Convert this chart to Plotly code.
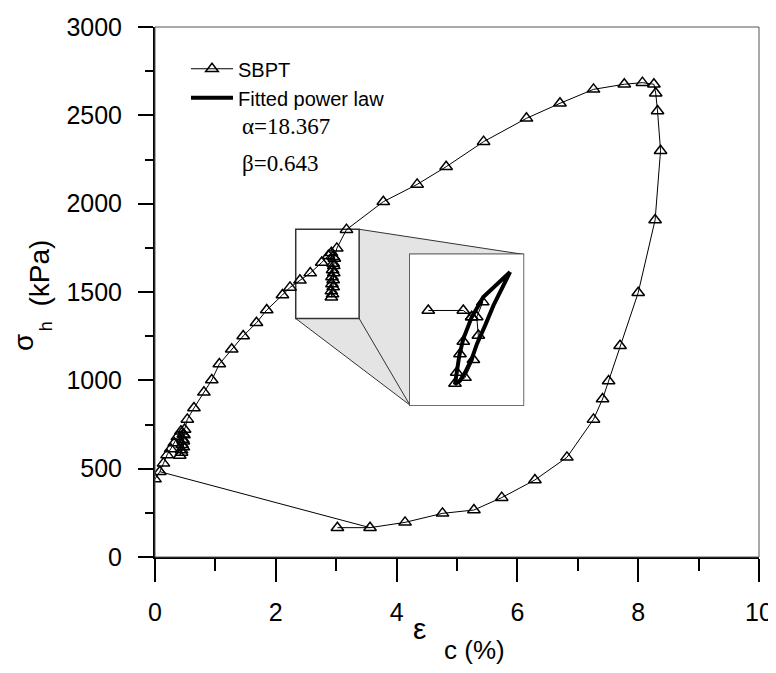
import plotly.graph_objects as go

# ---- main SBPT record (strain %, stress kPa) ----
eps = [0.00, 0.08, 0.14, 0.20, 0.26, 0.32, 0.37, 0.43,
       0.47, 0.46, 0.45, 0.44, 0.41,
       0.44, 0.47, 0.47, 0.48, 0.49,
       0.535, 0.645, 0.81, 0.94, 1.065, 1.27, 1.46, 1.68, 1.85, 2.11, 2.235,
       2.40, 2.57, 2.76, 2.87, 2.92,
       2.95, 2.95, 2.94, 2.93, 2.93, 2.92, 2.92,
       2.94, 2.95, 2.95, 2.96, 2.96, 2.97,
       3.01, 3.17, 3.78, 4.34, 4.82, 5.44, 6.15, 6.705, 7.26, 7.77, 8.07,
       8.26, 8.29, 8.32, 8.37, 8.28, 8.00, 7.70, 7.51, 7.41, 7.26, 6.82,
       6.29, 5.74, 5.28, 4.76, 4.14, 3.56, 3.02]
sig = [441, 483, 530, 578, 612, 645, 680, 712,
       695, 665, 635, 605, 575,
       592, 622, 655, 690, 722,
       779, 843, 932, 1002, 1092, 1176, 1251, 1326, 1398, 1483, 1526,
       1566, 1607, 1667, 1705, 1722,
       1700, 1662, 1625, 1585, 1545, 1505, 1470,
       1488, 1528, 1568, 1608, 1648, 1690,
       1747, 1853, 2011, 2109, 2209, 2351, 2483, 2568, 2647, 2676, 2685,
       2676, 2625, 2525, 2300, 1908, 1496, 1196, 996, 894, 779, 564,
       436, 336, 266, 247, 196, 166, 166]

# segment joining an early point to the end of unloading
link_idx = [1, 74]

# ---- zoom window and inset placement (data units of main axes) ----
zoom_x = [2.33, 3.38]
zoom_y = [1350, 1855]
inset_x = [4.22, 6.10]
inset_y = [860, 1713]

# ---- inset content (coordinates of the zoom window) ----
ins_eps = [2.50, 2.824, 2.902, 3.004, 2.948, 2.963, 2.917, 2.840, 2.747,
           2.763, 2.793, 2.824, 2.902]
ins_sig = [1667, 1667, 1645, 1695, 1645, 1583, 1502, 1442, 1422,
           1459, 1521, 1563, 1645]

fit_eps = [3.257, 3.009, 2.902, 2.824, 2.787, 2.763, 2.747,
           2.793, 2.840, 2.902, 2.950, 3.026, 3.103, 3.257]
fit_sig = [1796, 1712, 1645, 1572, 1516, 1459, 1420,
           1431, 1459, 1505, 1555, 1617, 1684, 1796]

alpha_txt = "α=18.367"
beta_txt = "β=0.643"

x_range = [0, 10]
y_range = [0, 3000]

SANS = "Liberation Sans, Arial, sans-serif"
SERIF = "Liberation Serif, Times New Roman, serif"

fig = go.Figure()

fig.add_trace(go.Scatter(
    x=[eps[i] for i in link_idx], y=[sig[i] for i in link_idx],
    mode="lines", line=dict(color="black", width=1),
    showlegend=False, hoverinfo="skip"))

fig.add_trace(go.Scatter(
    x=eps, y=sig, mode="lines+markers", name="SBPT",
    line=dict(color="black", width=1),
    marker=dict(symbol="triangle-up-open", size=11, color="black",
                line=dict(width=1.5, color="black")),
    legendgroup="a"))

# inset traces
fig.add_trace(go.Scatter(
    x=ins_eps, y=ins_sig, mode="lines+markers", xaxis="x2", yaxis="y2",
    line=dict(color="black", width=1),
    marker=dict(symbol="triangle-up-open", size=11, color="black",
                line=dict(width=1.5, color="black")),
    showlegend=False))
fig.add_trace(go.Scatter(
    x=fit_eps, y=fit_sig, mode="lines", xaxis="x2", yaxis="y2",
    name="Fitted power law", line=dict(color="black", width=4),
    legendgroup="b"))

shapes = [
    # gray projection
    dict(type="path", xref="x", yref="y", layer="below",
         path=f"M{zoom_x[1]},{zoom_y[1]} L{inset_x[1]},{inset_y[1]} "
              f"L{inset_x[0]},{inset_y[0]} L{zoom_x[0]},{zoom_y[0]} Z",
         fillcolor="#e4e4e4", line=dict(color="#333", width=1)),
    dict(type="line", xref="x", yref="y", layer="below",
         x0=zoom_x[1], y0=zoom_y[0], x1=inset_x[0], y1=inset_y[0],
         line=dict(color="#333", width=1)),
    dict(type="rect", xref="x", yref="y", layer="below",
         x0=zoom_x[0], x1=zoom_x[1], y0=zoom_y[0], y1=zoom_y[1],
         fillcolor="white", line=dict(color="#333", width=1.5)),
    dict(type="rect", xref="x", yref="y", layer="below",
         x0=inset_x[0], x1=inset_x[1], y0=inset_y[0], y1=inset_y[1],
         fillcolor="white", line=dict(color="#333", width=1.5)),
    # thin frame top / right
    dict(type="rect", xref="paper", yref="paper", x0=0, x1=1, y0=0, y1=1,
         line=dict(color="#555", width=1)),
]

ann = [
    dict(text=alpha_txt, x=0.141, y=0.813, xref="paper", yref="paper",
         xanchor="left", yanchor="middle", showarrow=False,
         font=dict(family=SERIF, size=23, color="black")),
    dict(text=beta_txt, x=0.141, y=0.743, xref="paper", yref="paper",
         xanchor="left", yanchor="middle", showarrow=False,
         font=dict(family=SERIF, size=23, color="black")),
    # x title
    dict(text="ε", x=0.4387, y=-0.134, xref="paper", yref="paper",
         xanchor="center", yanchor="middle", showarrow=False,
         font=dict(family=SANS, size=30, color="black")),
    dict(text="c (%)", x=0.475, y=-0.176, xref="paper", yref="paper",
         xanchor="left", yanchor="middle", showarrow=False,
         font=dict(family=SANS, size=26, color="black")),
    # y title
    dict(text="σ", x=-0.2169, y=0.4057, xref="paper", yref="paper",
         xanchor="center", yanchor="middle", showarrow=False, textangle=-90,
         font=dict(family=SANS, size=28, color="black")),
    dict(text="h", x=-0.180, y=0.4358, xref="paper", yref="paper",
         xanchor="center", yanchor="middle", showarrow=False, textangle=-90,
         font=dict(family=SANS, size=18, color="black")),
    dict(text="(kPa)", x=-0.1920, y=0.535, xref="paper", yref="paper",
         xanchor="center", yanchor="middle", showarrow=False, textangle=-90,
         font=dict(family=SANS, size=28, color="black")),
]

# the page body adds an 8 px offset, so the figure is 8 px smaller
fig.update_layout(
    width=768, height=665,
    margin=dict(l=147, r=17, t=19, b=116, autoexpand=False),
    paper_bgcolor="white", plot_bgcolor="white",
    font=dict(family=SANS, color="black"),
    shapes=shapes, annotations=ann,
    legend=dict(x=0.0513, y=0.958, xanchor="left", yanchor="top",
                bgcolor="rgba(0,0,0,0)", font=dict(family=SANS, size=20),
                traceorder="grouped", tracegroupgap=0, itemwidth=42),
    xaxis=dict(range=x_range, dtick=2, tick0=0, ticks="outside", ticklen=23,
               tickwidth=2, tickcolor="black", showline=True, linewidth=2,
               linecolor="black", showgrid=False, zeroline=False,
               automargin=False,
               tickfont=dict(size=25, family=SANS), ticklabelstandoff=9,
               minor=dict(dtick=1, tick0=0, ticks="outside", ticklen=12,
                          tickwidth=2, tickcolor="black", showgrid=False)),
    yaxis=dict(range=y_range, dtick=500, tick0=0, ticks="outside", ticklen=15,
               tickwidth=2, tickcolor="black", showline=True, linewidth=2,
               linecolor="black", showgrid=False, zeroline=False,
               automargin=False,
               tickfont=dict(size=25, family=SANS), ticklabelstandoff=11,
               minor=dict(dtick=250, tick0=0, ticks="outside", ticklen=8,
                          tickwidth=2, tickcolor="black", showgrid=False)),
    xaxis2=dict(domain=[inset_x[0] / x_range[1], inset_x[1] / x_range[1]],
                range=zoom_x, visible=False, anchor="y2"),
    yaxis2=dict(domain=[inset_y[0] / y_range[1], inset_y[1] / y_range[1]],
                range=zoom_y, visible=False, anchor="x2"),
)

fig.write_html("out.html")
